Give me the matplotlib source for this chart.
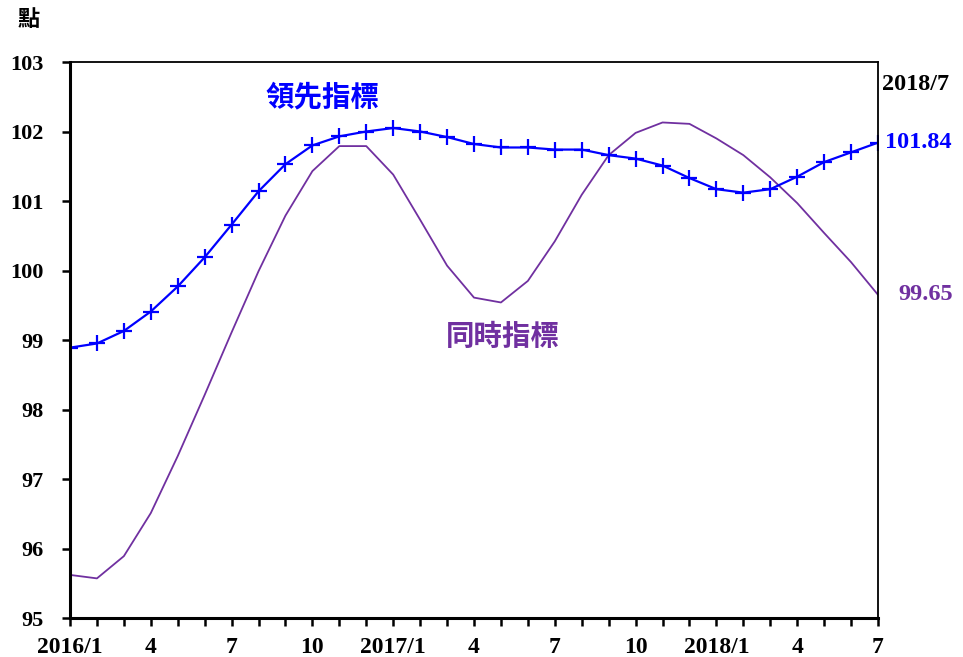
import matplotlib
matplotlib.use("Agg")
import matplotlib.pyplot as plt

# Monthly index values, 2016/1 through 2018/7
months = list(range(31))
leading = [98.89, 98.95, 99.13, 99.41, 99.77, 100.19, 100.66, 101.14, 101.53, 101.80,
           101.93, 102.00, 102.05, 102.00, 101.92, 101.82, 101.77, 101.77, 101.74, 101.74,
           101.66, 101.61, 101.51, 101.33, 101.17, 101.12, 101.17, 101.35, 101.56, 101.70,
           101.84]
coincident = [95.62, 95.57, 95.89, 96.51, 97.33, 98.21, 99.11, 99.99, 100.79, 101.43,
              101.79, 101.79, 101.38, 100.73, 100.07, 99.61, 99.54, 99.85, 100.42, 101.09,
              101.66, 101.98, 102.13, 102.11, 101.90, 101.66, 101.34, 100.97, 100.54, 100.12,
              99.65]
tick_labels = ["2016/1", "4", "7", "10", "2017/1", "4", "7", "10", "2018/1", "4", "7"]
y_ticks = [95, 96, 97, 98, 99, 100, 101, 102, 103]

BLUE = "#0000FF"
PURPLE = "#7030A0"
serif = ["Liberation Serif", "DejaVu Serif"]
cjk = ["Noto Sans CJK TC", "DejaVu Sans"]

fig = plt.figure(figsize=(9.63, 6.57), dpi=100)
ax = fig.add_axes([70 / 963, 39 / 657, 808 / 963, 556 / 657])

ax.plot(months, coincident, color=PURPLE, lw=1.3)
ax.plot(months, leading, color=BLUE, lw=1.6, marker="+", ms=11, mew=1.6)

ax.set_xlim(0, 30)
ax.set_ylim(95, 103)
ax.set_xticks(months)
ax.set_xticklabels([tick_labels[i // 3] if i % 3 == 0 else "" for i in months])
ax.set_yticks(y_ticks)
ax.set_yticklabels([str(v) for v in y_ticks])

for lab in ax.get_xticklabels():
    lab.set_fontfamily(serif)
    lab.set_fontweight("bold")
    lab.set_fontsize(17)
for lab in ax.get_yticklabels():
    lab.set_fontfamily(serif)
    lab.set_fontweight("bold")
    lab.set_fontsize(16)

ax.tick_params(axis="x", direction="out", length=6, width=1.8, pad=8)
ax.tick_params(axis="y", direction="out", length=6, width=1.8, pad=13)
for side in ("left", "bottom"):
    ax.spines[side].set_linewidth(2.2)
for side in ("top", "right"):
    ax.spines[side].set_linewidth(1.3)

fig.text(29 / 963, 1 - 19 / 657, "點", family=cjk, fontweight="bold", fontsize=16,
         ha="center", va="center")
fig.text(322 / 963, 1 - 97 / 657, "領先指標", family=cjk, fontweight="bold",
         fontsize=20.5, color=BLUE, ha="center", va="center")
fig.text(503 / 963, 1 - 337 / 657, "同時指標", family=cjk, fontweight="bold",
         fontsize=20.5, color=PURPLE, ha="center", va="center")
fig.text(916 / 963, 1 - 85 / 657, "2018/7", family=serif, fontweight="bold",
         fontsize=17.5, color="black", ha="center", va="center")
ax.annotate(f"{leading[-1]:.2f}", xy=(months[-1], leading[-1]), xytext=(5, 0),
            textcoords="offset points", family=serif, fontweight="bold", fontsize=17.5,
            color=BLUE, ha="left", va="center", annotation_clip=False)
ax.annotate(f"{coincident[-1]:.2f}", xy=(months[-1], coincident[-1]), xytext=(15, 0),
            textcoords="offset points", family=serif, fontweight="bold", fontsize=17.5,
            color=PURPLE, ha="left", va="center", annotation_clip=False)

fig.savefig("out.png", dpi=100)
